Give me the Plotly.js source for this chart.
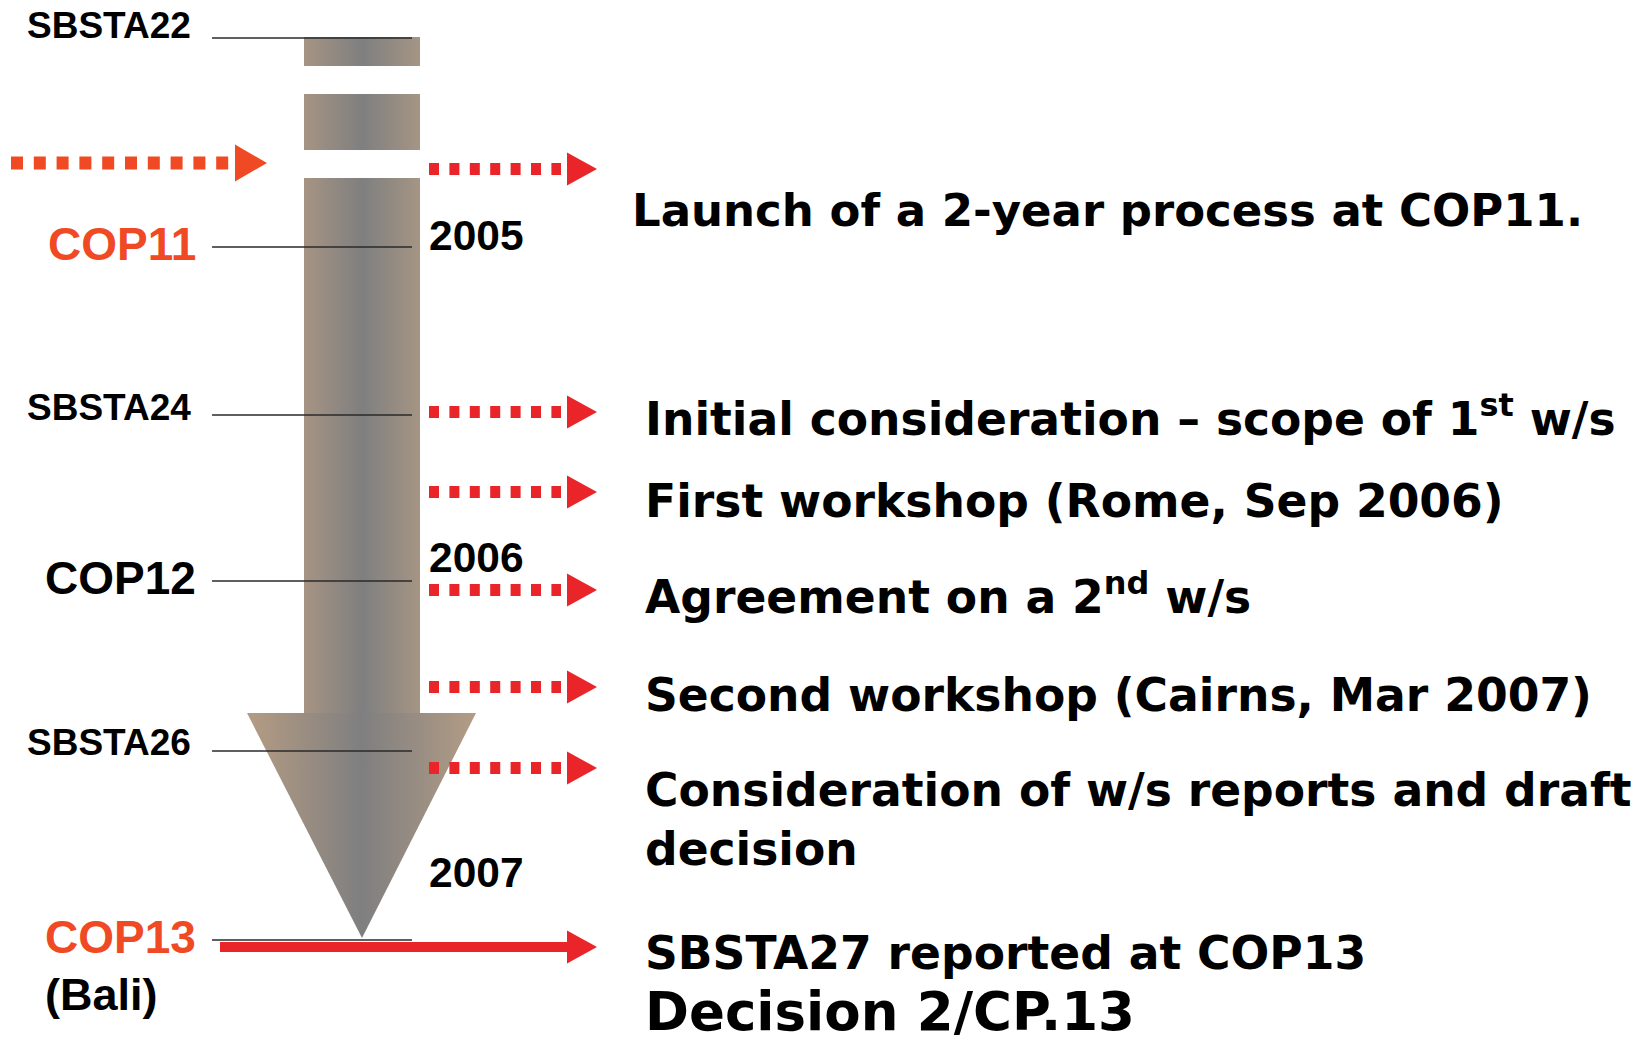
<!DOCTYPE html>
<html>
<head>
<meta charset="utf-8">
<script src="https://cdn.plot.ly/plotly-3.0.1.min.js"></script>
<style>html,body{margin:0;padding:0;background:#fff;}#chart{width:1643px;height:1042px;}</style>
</head>
<body>
<div id="chart"></div>
<script>
// ---------- DATA ----------
// Timeline milestones (left side) and their position on the vertical time axis
const milestoneLabels = ['SBSTA22', 'COP11', 'SBSTA24', 'COP12', 'SBSTA26', 'COP13'];
const milestoneTime   = [38, 247, 415, 581, 751, 940];
const milestoneIsCop  = [false, true, false, true, false, true];
const milestoneRed    = [false, true, false, false, false, true];

// Years shown beside the shaft
const yearLabels = ['2005', '2006', '2007'];
const yearTime   = [235, 557, 872];

// Events (right side): arrow time and text
const eventTexts = [
  'Launch of a 2-year process at COP11.',
  'Initial consideration – scope of 1<sup>st</sup> w/s',
  'First workshop (Rome, Sep 2006)',
  'Agreement on a 2<sup>nd</sup> w/s',
  'Second workshop (Cairns, Mar 2007)',
  'Consideration of w/s reports and draft<br>decision',
  'SBSTA27 reported at COP13'
];
const eventArrowTime = [169, 412, 492, 590, 687, 768, 947];
const eventTextTime  = [210, 416, 501, 594, 695, 820, 953];
const eventSolid     = [false, false, false, false, false, false, true];
const finalDecision  = 'Decision 2/CP.13';
const finalDecisionTime = 1011;

// Incoming arrow on the far left (before the process)
const incomingTime = 163;

// Timeline shaft segments (start/end on the time axis)
const shaftStart = [37, 94, 178];
const shaftEnd   = [66, 150, 713];
const arrowTipTime = 938;

// ---------- STYLE / GEOMETRY ----------
const W = 1643, H = 1042;
const shaftL = 304, shaftR = 420, headL = 247, headR = 476, center = 362;
const tickL = 212, tickR = 412;
const arrX0 = 429, arrHead0 = 567, arrHead1 = 597;
const RED = '#e9252a', ORANGE = '#ef4a24';
const labelOffset = [-13, -3, -8, -3, -9, -3];

const traces = [];
const shaftScale = [[0, '#a69483'], [0.5, '#7f7f80'], [1, '#a59584']];
const headScale  = [[0, '#b59c83'], [0.5, '#7f7f80'], [1, '#b39c85']];

shaftStart.forEach((s, i) => {
  const e = shaftEnd[i];
  traces.push({
    type: 'scatter', mode: 'lines', hoverinfo: 'skip',
    x: [shaftL, shaftR, shaftR, shaftL, shaftL],
    y: [s, s, e, e, s],
    fill: 'toself', line: {width: 0, color: 'rgba(0,0,0,0)'},
    fillgradient: {type: 'horizontal', colorscale: shaftScale}
  });
});
// arrow head
const headTop = shaftEnd[shaftEnd.length - 1];
traces.push({
  type: 'scatter', mode: 'lines', hoverinfo: 'skip',
  x: [headL, headR, center, headL],
  y: [headTop, headTop, arrowTipTime, headTop],
  fill: 'toself', line: {width: 0, color: 'rgba(0,0,0,0)'},
  fillgradient: {type: 'horizontal', colorscale: headScale}
});

// milestone tick lines
const tx = [], ty = [];
milestoneTime.forEach(t => { tx.push(tickL, tickR, null); ty.push(t, t, null); });
traces.push({type: 'scatter', mode: 'lines', hoverinfo: 'skip', x: tx, y: ty,
  line: {color: '#2a2a2a', width: 1.6}});

function headTrace(x0, x1, y, h, color) {
  return {type: 'scatter', mode: 'lines', hoverinfo: 'skip',
    x: [x0, x1, x0, x0], y: [y - h / 2, y, y + h / 2, y - h / 2],
    fill: 'toself', fillcolor: color, line: {width: 0, color: color}};
}

// event arrows
eventArrowTime.forEach((t, i) => {
  if (eventSolid[i]) {
    traces.push({type: 'scatter', mode: 'lines', hoverinfo: 'skip',
      x: [220, arrHead0 + 2], y: [t, t], line: {color: RED, width: 10}});
  } else {
    traces.push({type: 'scatter', mode: 'lines', hoverinfo: 'skip',
      x: [arrX0, arrHead0 - 6], y: [t, t], line: {color: RED, width: 12, dash: '10px,10.4px'}});
  }
  traces.push(headTrace(arrHead0, arrHead1, t, 33, RED));
});

// incoming arrow at far left
traces.push({type: 'scatter', mode: 'lines', hoverinfo: 'skip',
  x: [11, 230], y: [incomingTime, incomingTime], line: {color: ORANGE, width: 13, dash: '12px,10.8px'}});
traces.push(headTrace(235, 267, incomingTime, 37, ORANGE));

// ---------- TEXT ----------
const annotations = [];
const leftFont = 'Liberation Sans, Arial, Helvetica, sans-serif';
const rightFont = 'DejaVu Sans, Verdana, sans-serif';

milestoneLabels.forEach((lab, i) => {
  annotations.push({
    x: milestoneIsCop[i] ? 198 : 193, y: milestoneTime[i] + labelOffset[i],
    xref: 'x', yref: 'y', xanchor: 'right', yanchor: 'middle', showarrow: false,
    text: lab,
    font: {family: leftFont, weight: 700, size: milestoneIsCop[i] ? 46 : 37,
           color: milestoneRed[i] ? ORANGE : '#000'}
  });
});
annotations.push({x: 43, y: 994, xref: 'x', yref: 'y', xanchor: 'left', yanchor: 'middle',
  showarrow: false, text: '(Bali)', font: {family: leftFont, weight: 700, size: 45, color: '#000'}});

yearLabels.forEach((lab, i) => {
  annotations.push({x: 427, y: yearTime[i], xref: 'x', yref: 'y', xanchor: 'left', yanchor: 'middle',
    showarrow: false, text: lab, font: {family: leftFont, weight: 700, size: 42.5, color: '#000'}});
});

eventTexts.forEach((txt, i) => {
  annotations.push({x: i === 0 ? 630 : 643, y: eventTextTime[i], xref: 'x', yref: 'y',
    xanchor: 'left', yanchor: 'middle', align: 'left', showarrow: false, text: txt,
    font: {family: rightFont, weight: 700, size: i === 0 ? 45 : 45.6, color: '#000'}});
});
annotations.push({x: 643, y: finalDecisionTime, xref: 'x', yref: 'y', xanchor: 'left', yanchor: 'middle',
  showarrow: false, text: finalDecision, font: {family: rightFont, weight: 700, size: 53, color: '#000'}});

const layout = {
  width: W, height: H, margin: {l: 0, r: 0, t: 0, b: 0, pad: 0},
  paper_bgcolor: '#fff', plot_bgcolor: '#fff', showlegend: false,
  xaxis: {range: [0, W], visible: false, fixedrange: true},
  yaxis: {range: [H, 0], visible: false, fixedrange: true},
  annotations: annotations
};
Plotly.newPlot('chart', traces, layout, {displayModeBar: false, staticPlot: true});
</script>
</body>
</html>
